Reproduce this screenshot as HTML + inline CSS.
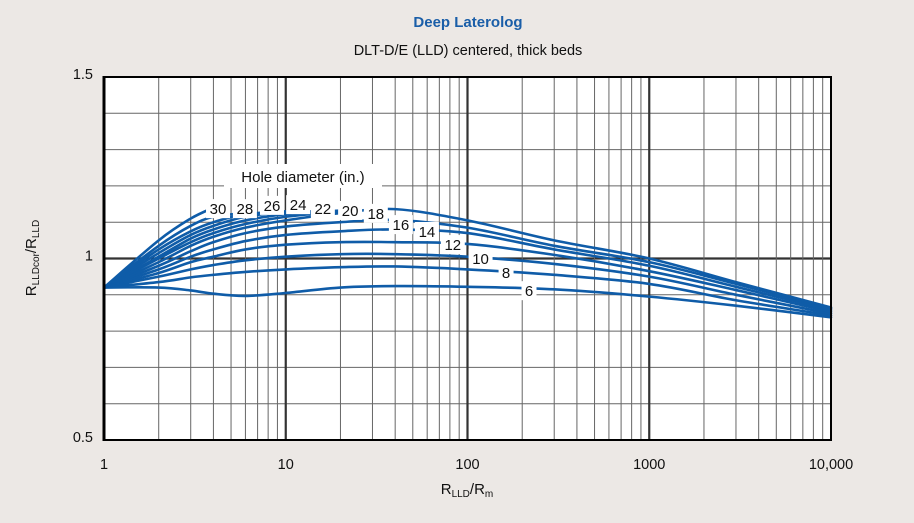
<!DOCTYPE html>
<html><head><meta charset="utf-8"><style>
body{margin:0;background:#ece8e5;width:914px;height:523px;overflow:hidden;font-family:"Liberation Sans",sans-serif}
</style></head><body>
<svg width="914" height="523" style="position:absolute;left:0;top:0">
<text x="468" y="27" text-anchor="middle" font-size="15" font-weight="bold" fill="#1a5ea8">Deep Laterolog</text>
<text x="468" y="55" text-anchor="middle" font-size="14.5" fill="#111">DLT-D/E (LLD) centered, thick beds</text>
<rect x="104" y="77" width="727" height="363" fill="#fff"/>
<g id="grid"></g>
<g id="curves"></g>
<g id="labels"></g>
<rect x="104" y="77" width="727" height="363" fill="none" stroke="#000" stroke-width="2"/>
<line x1="104" y1="76" x2="104" y2="441" stroke="#000" stroke-width="3"/>
<g id="ticks" font-size="14.5" fill="#111"></g>
<text x="467" y="494" text-anchor="middle" font-size="15" fill="#111">R<tspan font-size="10" dy="3">LLD</tspan><tspan dy="-3">/R</tspan><tspan font-size="10" dy="3">m</tspan></text>
<text transform="translate(36,258) rotate(-90)" text-anchor="middle" font-size="15" fill="#111">R<tspan font-size="10" dy="3">LLDcor</tspan><tspan dy="-3">/R</tspan><tspan font-size="10" dy="3">LLD</tspan></text>
</svg>
<script>
const xVals=[1,2,3,4,6,10,20,40,100,300,1000,3000,10000];
const curveNames=["6","8","10","12","14","16","18","20","22","24","26","28","30"];
const c6=[.92,.92,.912,.903,.897,.905,.92,.924,.922,.915,.895,.87,.838];
const c8=[.92,.935,.948,.955,.963,.97,.976,.978,.97,.955,.93,.885,.843];
const c10=[.92,.95,.97,.982,.995,1.005,1.012,1.012,1.005,.985,.95,.9,.848];
const c12=[.92,.96,.99,1.005,1.025,1.038,1.045,1.045,1.04,1.01,.965,.913,.853];
const c14=[.92,.97,1.005,1.025,1.048,1.065,1.075,1.08,1.07,1.025,.98,.922,.858];
const c16=[.92,.98,1.02,1.045,1.07,1.088,1.1,1.106,1.085,1.035,.99,.93,.862];
const c18=[.92,.99,1.035,1.06,1.085,1.105,1.125,1.136,1.105,1.05,1.0,.935,.865];
const c20=[.92,1.0,1.045,1.07,1.095,1.115,1.13,null,null,null,null,null,null];
const c22=[.92,1.005,1.055,1.08,1.105,1.122,1.132,null,null,null,null,null,null];
const c24=[.92,1.015,1.065,1.09,1.115,1.128,1.13,null,null,null,null,null,null];
const c26=[.92,1.025,1.075,1.1,1.122,1.13,null,null,null,null,null,null,null];
const c28=[.92,1.035,1.09,1.115,1.125,null,null,null,null,null,null,null,null];
const c30=[.92,1.05,1.11,1.14,null,null,null,null,null,null,null,null,null];
const series=[c6,c8,c10,c12,c14,c16,c18,c20,c22,c24,c26,c28,c30];
const labelX=[218,163,118,83,59.8,43,31.3,22.6,16.0,11.7,8.4,5.96,4.24];
const labelY=[0.91,0.96,0.999,1.037,1.073,1.092,1.123,1.131,1.136,1.147,1.145,1.136,1.136];
const xTicks=[1,10,100,1000,10000];
const xTickText=["1","10","100","1000","10,000"];
const yTicks=[0.5,1,1.5];
const yTickText=["0.5","1","1.5"];
const L=104,R=831,T=77,B=440;
const sx=v=>L+Math.log10(v)/4*(R-L);
const sy=v=>T+(1.5-v)*(B-T);
const NS="http://www.w3.org/2000/svg";
function mk(tag,attrs,parent){const e=document.createElementNS(NS,tag);for(const k in attrs)e.setAttribute(k,attrs[k]);parent.appendChild(e);return e;}
const grid=document.getElementById('grid');
for(let v=0.6;v<1.45;v+=0.1){const y=sy(v);const major=Math.abs(v-1)<1e-6;
 const ln=mk('line',{x1:L,x2:R,y1:y,y2:y,stroke:major?'#333':'#666','stroke-width':major?2.2:1},grid);
 
 }
for(let d=0;d<4;d++){for(let m=1;m<=9;m++){const v=Math.pow(10,d)*m;if(v===1)continue;const x=sx(v);
 const ln=mk('line',{x1:x,x2:x,y1:T,y2:B,stroke:m===1?'#333':'#666','stroke-width':m===1?2.2:1},grid);
 
 }}
const cg=document.getElementById('curves');
series.forEach((s,i)=>{const pts=[];s.forEach((v,j)=>{if(v!==null)pts.push([sx(xVals[j]),sy(v)]);});
 let d='M'+pts[0][0]+','+pts[0][1];
 for(let k=0;k<pts.length-1;k++){const p0=pts[Math.max(k-1,0)],p1=pts[k],p2=pts[k+1],p3=pts[Math.min(k+2,pts.length-1)];
  const c1=[p1[0]+(p2[0]-p0[0])/6,p1[1]+(p2[1]-p0[1])/6],c2=[p2[0]-(p3[0]-p1[0])/6,p2[1]-(p3[1]-p1[1])/6];
  d+=` C${c1[0]},${c1[1]} ${c2[0]},${c2[1]} ${p2[0]},${p2[1]}`;}
 const p=mk('path',{d:d,fill:'none',stroke:'#0f5ca8','stroke-width':2.6,'stroke-linecap':'round'},cg);
 
 });
const lg=document.getElementById('labels');
const hb=mk('rect',{x:224,y:164,width:158,height:24,fill:'#fff'},lg);


const ht=mk('text',{x:303,y:182,'text-anchor':'middle','font-size':15,fill:'#111'},lg);ht.textContent='Hole diameter (in.)';


curveNames.forEach((n,i)=>{const x=sx(labelX[i]),y=sy(labelY[i]);const w=n.length*9+6;
 const r=mk('rect',{x:x-w/2,y:y-10,width:w,height:19,fill:'#fff'},lg);
 
 
 const t=mk('text',{x:x,y:y+5,'text-anchor':'middle','font-size':15,fill:'#111'},lg);t.textContent=n;
 
 });
const tg=document.getElementById('ticks');
xTicks.forEach((v,i)=>{const t=mk('text',{x:sx(v),y:469,'text-anchor':'middle'},tg);t.textContent=xTickText[i];
 
 });
yTicks.forEach((v,i)=>{const t=mk('text',{x:93,y:sy(v)+2,'text-anchor':'end'},tg);t.textContent=yTickText[i];
 
 });
</script>
</body></html>
